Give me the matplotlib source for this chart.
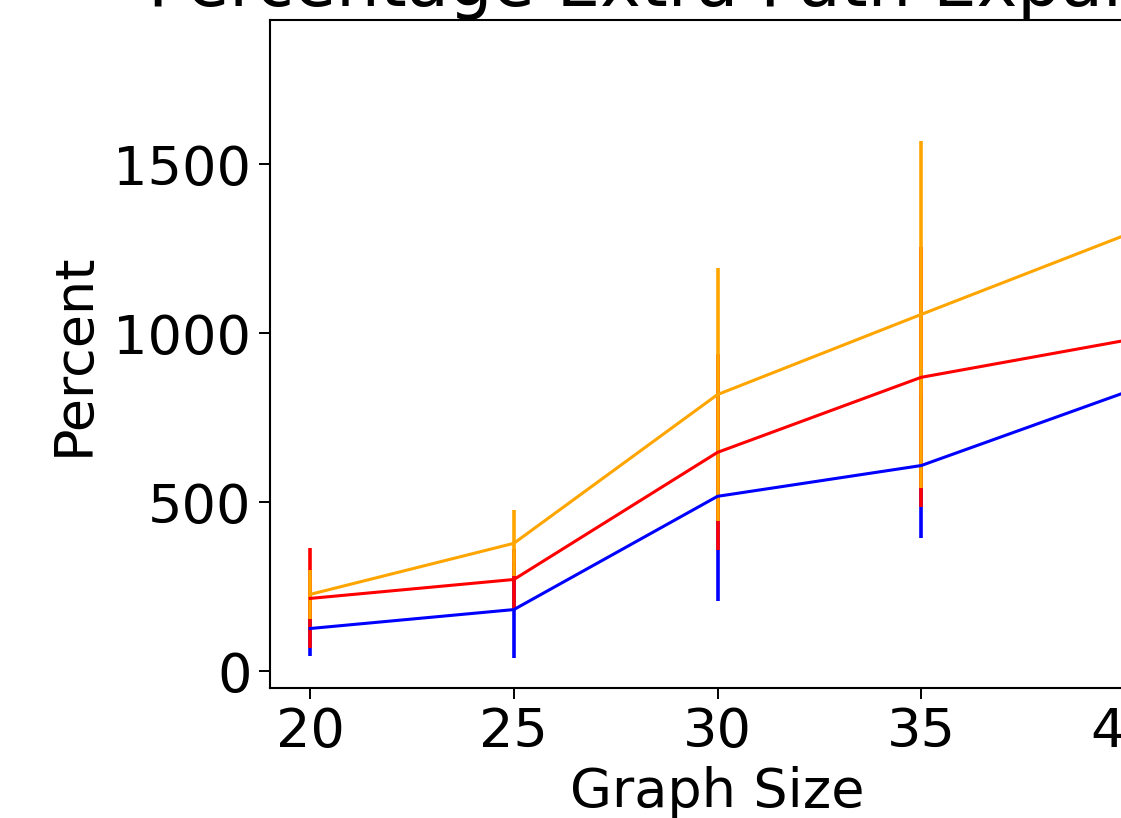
import matplotlib
matplotlib.use("Agg")
import matplotlib.pyplot as plt

graph_sizes = [20, 25, 30, 35, 40]
xtick_labels = ["20", "25", "30", "35", "40"]
yticks = [0, 500, 1000, 1500]

blue_mean = [127, 183, 518, 609, 825]
blue_err = [80, 142, 311, 213, 320]
red_mean = [216, 272, 648, 870, 979]
red_err = [148, 89, 290, 385, 560]
orange_mean = [228, 379, 819, 1056, 1290]
orange_err = [72, 98, 374, 514, 547]

title = "Percentage Extra Path Expansion"
xlabel = "Graph Size"
ylabel = "Percent"

W, H = 1121, 818
fig = plt.figure(figsize=(W / 100, H / 100), dpi=100)
ax = fig.add_axes([269.5 / W, (H - 688) / H, 896 / W, 668 / H])

for mean, err, col in [(blue_mean, blue_err, "blue"),
                       (red_mean, red_err, "red"),
                       (orange_mean, orange_err, "orange")]:
    ax.errorbar(graph_sizes, mean, yerr=err, color=col, ecolor=col,
                linewidth=2.2, elinewidth=2.6)

ax.set_xlim(19, 41)
ax.set_ylim(-49, 1927)
ax.set_xticks(graph_sizes)
ax.set_xticklabels(xtick_labels)
ax.set_yticks(yticks)
ax.tick_params(labelsize=39, length=8, width=1.4, pad=5)
for s in ax.spines.values():
    s.set_linewidth(1.5)
ax.set_xlabel(xlabel, fontsize=39, labelpad=6)
ax.set_ylabel(ylabel, fontsize=39, labelpad=10)
ax.set_title(title, fontsize=49.5, pad=6.5)

fig.savefig("out.png", dpi=100)
